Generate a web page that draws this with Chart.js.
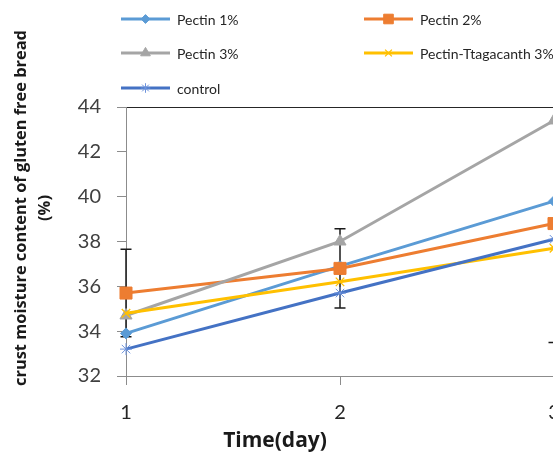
<!DOCTYPE html>
<html><head><meta charset="utf-8">
<script src="https://cdn.jsdelivr.net/npm/chart.js@4.4.0/dist/chart.umd.min.js"></script>
<style>
html,body{margin:0;padding:0;background:#fff;overflow:hidden;width:553px;height:453px;}
#wrap{position:absolute;left:0;top:0;width:620px;height:453px;}
canvas{display:block;}
</style></head><body>
<div id="wrap"><canvas id="c" width="620" height="453" style="width:620px;height:453px"></canvas></div>
<script>
// ---- data ----
const days = ['1', '2', '3'];
const seriesNames = ['Pectin 1%', 'Pectin 2%', 'Pectin 3%', 'Pectin-Ttagacanth 3%', 'control'];
const pectin1 = [33.9, 36.9, 39.8];
const pectin2 = [35.7, 36.8, 38.8];
const pectin3 = [34.7, 38.0, 43.4];
const pectinTrag = [34.8, 36.2, 37.7];
const control = [33.2, 35.7, 38.1];
const pectin2Err = [1.95, 1.77, 5.3];
const yTicks = [32, 34, 36, 38, 40, 42, 44];
const yTitle = ['crust moisture content of gluten free bread', '(%)'];
const xTitle = 'Time(day)';

// ---- styles ----
const colors = ['#5B9BD5', '#ED7D31', '#A5A5A5', '#FFC000', '#4472C4'];
const markerStyles = ['rectRot', 'rect', 'triangle', 'crossRot', 'star'];
const markerRadius = [5.5, 8.5, 7, 6, 6];
const markerBorder = [1, 1, 1, 1.3, 1];
const seriesData = [pectin1, pectin2, pectin3, pectinTrag, control];

const datasets = seriesData.map((d, i) => ({
  label: seriesNames[i],
  data: d,
  borderColor: colors[i],
  backgroundColor: colors[i],
  borderWidth: 3,
  pointStyle: markerStyles[i],
  pointRadius: markerRadius[i],
  pointHoverRadius: markerRadius[i],
  pointBackgroundColor: colors[i],
  pointBorderColor: i === 4 ? '#6d93dc' : colors[i],
  pointBorderWidth: markerBorder[i],
  tension: 0,
  order: seriesData.length - i,
  errors: i === 1 ? pectin2Err : null
}));

const errorBarPlugin = {
  id: 'errorBars',
  beforeDatasetsDraw(chart) {
    const ctx = chart.ctx, y = chart.scales.y, x = chart.scales.x, area = chart.chartArea;
    ctx.save();
    ctx.beginPath();
    ctx.rect(area.left - 10, area.top - 1, area.right - area.left + 20, area.bottom - area.top + 2);
    ctx.clip();
    ctx.strokeStyle = '#1a1a1a';
    ctx.lineWidth = 1.5;
    chart.data.datasets.forEach(ds => {
      if (!ds.errors) return;
      ds.data.forEach((v, j) => {
        const px = x.getPixelForValue(j);
        const top = y.getPixelForValue(v + ds.errors[j]);
        const bot = y.getPixelForValue(v - ds.errors[j]);
        ctx.beginPath();
        ctx.moveTo(px, top); ctx.lineTo(px, bot);
        ctx.moveTo(px - 5.5, top); ctx.lineTo(px + 5.5, top);
        ctx.moveTo(px - 5.5, bot); ctx.lineTo(px + 5.5, bot);
        ctx.stroke();
      });
    });
    ctx.restore();
  }
};

const legendPos = [[121, 19], [364, 19], [121, 53], [364, 53], [121, 88]];
const legendPlugin = {
  id: 'gridLegend',
  afterDraw(chart) {
    const ctx = chart.ctx;
    chart.data.datasets.forEach((ds, i) => {
      const [lx, ly] = legendPos[i];
      ctx.save();
      ctx.strokeStyle = ds.borderColor;
      ctx.lineWidth = 3;
      ctx.beginPath(); ctx.moveTo(lx, ly); ctx.lineTo(lx + 49, ly); ctx.stroke();
      ctx.fillStyle = ds.pointBackgroundColor;
      ctx.strokeStyle = ds.pointBorderColor;
      ctx.lineWidth = ds.pointBorderWidth;
      Chart.helpers.drawPoint(ctx, {pointStyle: ds.pointStyle, radius: ds.pointRadius * 0.8, rotation: 0, borderWidth: ds.pointBorderWidth}, lx + 24.5, ly);
      ctx.fillStyle = '#262626';
      ctx.font = '14px Lato';
      ctx.textAlign = 'left';
      ctx.textBaseline = 'middle';
      ctx.fillText(ds.label, lx + 56, ly + 1);
      ctx.restore();
    });
  }
};

const titlesPlugin = {
  id: 'axisTitles',
  afterDraw(chart) {
    const ctx = chart.ctx;
    ctx.save();
    ctx.fillStyle = '#1a1a1a';
    ctx.textAlign = 'center';
    ctx.textBaseline = 'middle';
    ctx.font = 'bold 21px "Open Sans"';
    ctx.fillText(xTitle, 275, 441);
    ctx.translate(0, 208);
    ctx.rotate(-Math.PI / 2);
    ctx.font = 'bold 16.4px "Open Sans"';
    ctx.fillText(yTitle[0], 0, 21);
    ctx.fillText(yTitle[1], 0, 45);
    ctx.restore();
  }
};

new Chart(document.getElementById('c'), {
  type: 'line',
  data: { labels: days, datasets },
  options: {
    responsive: false,
    animation: false,
    layout: { padding: { top: 107, left: 0, right: 66, bottom: 0 } },
    plugins: { legend: { display: false }, tooltip: { enabled: false }, title: { display: false } },
    scales: {
      x: {
        type: 'category',
        offset: false,
        grid: { display: true, drawOnChartArea: false, drawTicks: true, tickLength: 9, tickColor: '#8c8c8c' },
        border: { display: true, color: '#8c8c8c', width: 1 },
        ticks: { font: { family: 'Lato', size: 20 }, color: '#262626', padding: 16, maxRotation: 0, autoSkip: false },
        afterFit: s => { s.height = 77; }
      },
      y: {
        min: yTicks[0],
        max: yTicks[yTicks.length - 1],
        ticks: { stepSize: yTicks[1] - yTicks[0], font: { family: 'Lato', size: 20 }, color: '#404040', padding: 16 },
        grid: {
          drawOnChartArea: true,
          color: c => (c.tick && c.tick.value === yTicks[yTicks.length - 1]) ? '#262626' : 'rgba(0,0,0,0)',
          tickColor: '#8c8c8c',
          tickLength: 9
        },
        border: { display: true, color: '#8c8c8c', width: 1 },
        afterFit: s => { s.width = 126; }
      }
    }
  },
  plugins: [errorBarPlugin, legendPlugin, titlesPlugin]
});
</script>
</body></html>
